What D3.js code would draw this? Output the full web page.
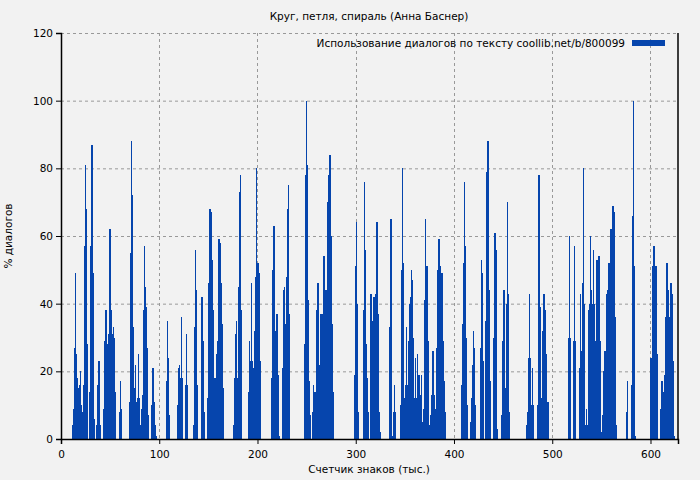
<!DOCTYPE html>
<html>
<head>
<meta charset="utf-8">
<script src="https://cdn.jsdelivr.net/npm/d3@7"></script>
<style>
body { margin: 0; background: #f2f2f2; }
text { font-family: "DejaVu Sans", sans-serif; font-size: 10.5px; fill: #000; }
</style>
</head>
<body>
<div id="container"></div>
<script>
var title = 'Круг, петля, спираль (Анна Баснер)';
var legendLabel = 'Использование диалогов по тексту coollib.net/b/800099';
var xLabel = 'Счетчик знаков (тыс.)';
var yLabel = '% диалогов';
var xTicks = [0, 100, 200, 300, 400, 500, 600];
var yTicks = [0, 20, 40, 60, 80, 100, 120];

function z(n) { return new Array(n).fill(0); }

// % of dialogue per thousand characters
var dialog = [].concat(
	z(11),
	[4,9,27,49,25,18,15,16,20,10,8,16,57,81,68,28], z(2),
	[14,57,87,49,6], z(2),
	[4,16,23,4], z(3),
	[9,29,38,28,9,31,62,37,38,31,33,30,14], z(3),
	[8,17,9], z(7),
	[11,55,88,72,33,15,22,11,12,25,12,4,9,13,38,57,45,39,27,7], z(3),
	[10,21,11,4,1], z(10),
	[17,35,24,7], z(7),
	[10,21,22,18,36,18], z(2),
	[16,31,16], z(5),
	[4,33,56,44,16], z(3),
	[21,42,29,8], z(3),
	[12,46,68,67,53,38,18,6,18,25,29,59,58,46,34,15], z(10),
	[4,18,31,35,18,45,73,78,38], z(6),
	[14,29,23,46,23,21,32,48,80,43,52,49,23], z(11),
	[18,50,63,32,19,37,19,1], z(3),
	[21,44,45,34,48,68,75,37], z(14),
	[28,78,100,81,41,17,7], z(1),
	[8,16,14,6,14,38,46,22,19,37,19,37,54,31,44,34,70,78,84,60,34,14], z(21),
	[19,51,64,40,8], z(4),
	[38,76,56,28,18,8], z(1),
	[21,43,35,21,42,25,43,64,37,8,2], z(9),
	[33,65,34,1,8,16,8], z(4),
	[10,50,80,52,12,16,33,16,29,40,42,50,47,30,12,24,12,25,19,19,13,19,5,9,41,65,40,51,29,4,4,7,13,26,13,3,9,27,50,59,51,45,49,29,17,8], z(16),
	[16,34,52,76,57,30,10], z(2),
	[5,12,22,32,27,10], z(4),
	[27,53,49,23], z(2),
	[35,79,88,44,17], z(3),
	[30,61,56,3], z(4),
	[7,29,44,22,15,40,70,43,8], z(16),
	[4,8,24,43,24,10,21,10], z(3),
	[10,50,78,39,12,10,32,43,38,25,11,11], z(20),
	[30,60,30], z(2),
	[29,57,29], z(3),
	[21,43,26,46,80,40,4,9,4,38,40,60,44,40,56,40,17,29,53,29,54,29,2], z(1),
	[7,20,26,21,43,44,52,51,62,50,69,67,36,4], z(10),
	[8,17], z(3),
	[16,66,100,51,1], z(14),
	[12,24,21,51,57,28,51,25], z(3),
	[9,17,14,11,19,36,52,44,17,36,46,23,43,23,1]
);

var width = 700, height = 480;
var margin = {top: 33, right: 22, bottom: 41, left: 61};

var svg = d3.select('div#container')
	.append('svg')
	.attr('width', width)
	.attr('height', height);

svg.append('rect').attr('width', width).attr('height', height).attr('fill', '#f2f2f2');

var x = d3.scaleLinear().domain([0, 628]).range([margin.left, width - margin.right]);
var y = d3.scaleLinear().domain([0, 120]).range([height - margin.bottom, margin.top]);

// grid
svg.append('g').selectAll('line')
	.data(yTicks.slice(1))
	.join('line')
	.attr('x1', margin.left).attr('x2', width - margin.right)
	.attr('y1', d => y(d) + 0.5).attr('y2', d => y(d) + 0.5)
	.attr('stroke', '#999').attr('stroke-dasharray', '3,3');
svg.append('g').selectAll('line')
	.data(xTicks.slice(1))
	.join('line')
	.attr('x1', d => Math.round(x(d)) + 0.5).attr('x2', d => Math.round(x(d)) + 0.5)
	.attr('y1', margin.top).attr('y2', height - margin.bottom)
	.attr('stroke', '#999').attr('stroke-dasharray', '3,3');

// bars
var bw = x(1) - x(0);
svg.append('g').selectAll('rect')
	.data(dialog)
	.join('rect')
	.attr('x', (d, i) => x(i))
	.attr('width', bw + 0.4)
	.attr('y', d => y(d))
	.attr('height', d => y(0) - y(d))
	.attr('fill', '#0645ad')
	.attr('shape-rendering', 'crispEdges');

// axes
var xAxis = svg.append('g')
	.attr('transform', 'translate(0,' + (height - margin.bottom) + ')')
	.call(d3.axisBottom(x).tickValues(xTicks).tickSize(5).tickFormat(d3.format('d')));
var yAxis = svg.append('g')
	.attr('transform', 'translate(' + margin.left + ',0)')
	.call(d3.axisLeft(y).tickValues(yTicks).tickSize(5));
svg.selectAll('.domain').attr('stroke', '#000').attr('stroke-width', 1.5);
xAxis.selectAll('text').style('font-size', '10.5px').attr('dy', '1em');
yAxis.selectAll('text').style('font-size', '10.5px');
svg.selectAll('.tick line').attr('stroke', '#000');

svg.append('line')
	.attr('x1', width - margin.right).attr('x2', width - margin.right)
	.attr('y1', margin.top).attr('y2', height - margin.bottom)
	.attr('stroke', '#000').attr('stroke-width', 1.5);

// texts
svg.append('text').attr('x', 369).attr('y', 20).attr('text-anchor', 'middle').text(title);
svg.append('text').attr('x', 369).attr('y', 473).attr('text-anchor', 'middle').text(xLabel);
svg.append('text')
	.attr('transform', 'translate(12,' + ((margin.top + height - margin.bottom) / 2) + ') rotate(-90)')
	.attr('text-anchor', 'middle').text(yLabel);

// legend
svg.append('text').attr('x', 625).attr('y', 47).attr('text-anchor', 'end').text(legendLabel);
svg.append('rect').attr('x', 632).attr('y', 40).attr('width', 33).attr('height', 6).attr('fill', '#0645ad');
</script>
</body>
</html>
